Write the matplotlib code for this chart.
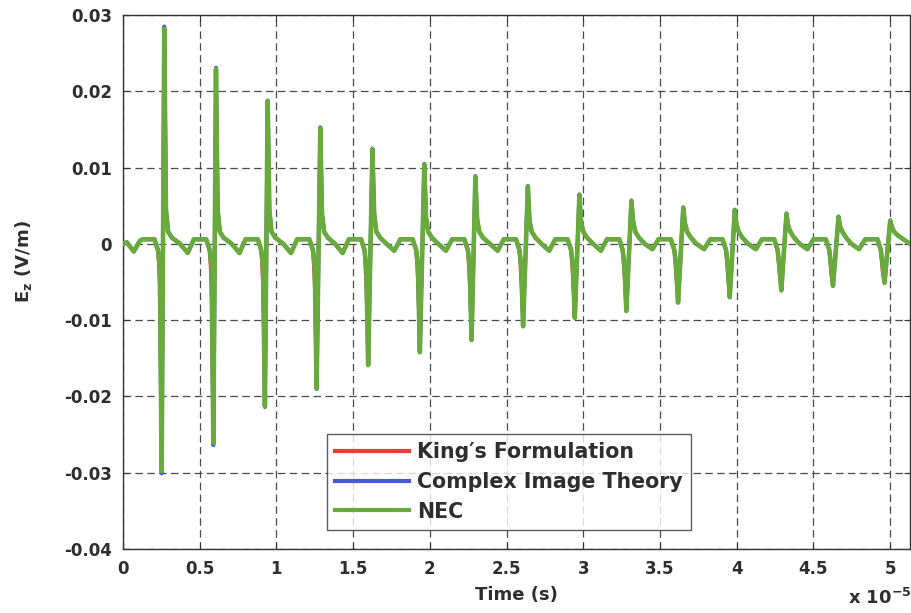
import matplotlib
matplotlib.use("Agg")
import matplotlib.pyplot as plt
from matplotlib.ticker import FixedLocator, FixedFormatter

# ---------------- data (time in units of 1e-5 s, Ez in V/m) ----------------
time_1e5 = [
    0.000, 0.025, 0.070, 0.110, 0.130, 0.205,
    0.228, 0.240, 0.252, 0.269, 0.280, 0.294, 0.319, 0.372, 0.422, 0.462, 0.542,
    0.565, 0.577, 0.589, 0.606, 0.617, 0.631, 0.656, 0.709, 0.759, 0.799, 0.879,
    0.901, 0.913, 0.925, 0.943, 0.954, 0.968, 0.993, 1.045, 1.095, 1.135, 1.215,
    1.238, 1.250, 1.262, 1.286, 1.297, 1.311, 1.336, 1.382, 1.432, 1.472, 1.552,
    1.574, 1.586, 1.598, 1.626, 1.637, 1.651, 1.676, 1.718, 1.768, 1.808, 1.888,
    1.911, 1.923, 1.935, 1.964, 1.975, 1.989, 2.014, 2.055, 2.105, 2.145, 2.225,
    2.248, 2.260, 2.272, 2.297, 2.308, 2.322, 2.347, 2.392, 2.442, 2.482, 2.562,
    2.584, 2.596, 2.608, 2.639, 2.650, 2.664, 2.689, 2.728, 2.778, 2.818, 2.898,
    2.921, 2.933, 2.945, 2.975, 2.986, 3.000, 3.025, 3.065, 3.115, 3.155, 3.235,
    3.257, 3.269, 3.281, 3.314, 3.325, 3.339, 3.364, 3.401, 3.451, 3.491, 3.571,
    3.594, 3.606, 3.618, 3.652, 3.663, 3.677, 3.702, 3.738, 3.788, 3.828, 3.908,
    3.931, 3.943, 3.955, 3.988, 3.999, 4.013, 4.038, 4.075, 4.125, 4.165, 4.245,
    4.267, 4.279, 4.291, 4.325, 4.336, 4.350, 4.375, 4.411, 4.461, 4.501, 4.581,
    4.604, 4.616, 4.628, 4.664, 4.675, 4.689, 4.714, 4.748, 4.798, 4.838, 4.918,
    4.940, 4.952, 4.964, 5.001, 5.012, 5.026, 5.051, 5.130,
]

ez_nec = [
    0.0000, 0.0002, -0.0010, 0.0004, 0.0006, 0.0006,
    -0.0008, -0.0030, -0.0298, 0.0282, 0.0045, 0.0016, 0.0008, 0.0000, -0.0012, 0.0006, 0.0006,
    -0.0008, -0.0030, -0.0261, 0.0229, 0.0045, 0.0016, 0.0008, 0.0000, -0.0012, 0.0006, 0.0006,
    -0.0008, -0.0030, -0.0213, 0.0187, 0.0045, 0.0016, 0.0008, 0.0000, -0.0012, 0.0006, 0.0006,
    -0.0008, -0.0030, -0.0190, 0.0152, 0.0040, 0.0016, 0.0008, 0.0000, -0.0012, 0.0006, 0.0006,
    -0.0008, -0.0030, -0.0159, 0.0124, 0.0040, 0.0016, 0.0008, 0.0000, -0.0009, 0.0006, 0.0006,
    -0.0008, -0.0030, -0.0142, 0.0104, 0.0035, 0.0016, 0.0008, 0.0000, -0.0009, 0.0006, 0.0006,
    -0.0008, -0.0030, -0.0126, 0.0088, 0.0033, 0.0016, 0.0008, 0.0000, -0.0009, 0.0006, 0.0006,
    -0.0008, -0.0030, -0.0108, 0.0075, 0.0030, 0.0016, 0.0008, 0.0000, -0.0009, 0.0006, 0.0006,
    -0.0008, -0.0030, -0.0097, 0.0064, 0.0028, 0.0016, 0.0008, 0.0000, -0.0009, 0.0006, 0.0006,
    -0.0008, -0.0030, -0.0088, 0.0056, 0.0030, 0.0016, 0.0008, 0.0000, -0.0007, 0.0006, 0.0006,
    -0.0008, -0.0030, -0.0077, 0.0047, 0.0027, 0.0016, 0.0008, 0.0000, -0.0007, 0.0006, 0.0006,
    -0.0008, -0.0030, -0.0070, 0.0044, 0.0025, 0.0016, 0.0008, 0.0000, -0.0007, 0.0006, 0.0006,
    -0.0008, -0.0030, -0.0061, 0.0039, 0.0023, 0.0016, 0.0008, 0.0000, -0.0007, 0.0006, 0.0006,
    -0.0008, -0.0030, -0.0055, 0.0035, 0.0022, 0.0016, 0.0008, 0.0000, -0.0007, 0.0006, 0.0006,
    -0.0008, -0.0030, -0.0051, 0.0030, 0.0022, 0.0016, 0.0011, 0.0000,
]

ez_cit = [
    0.0000, 0.0002, -0.0010, 0.0004, 0.0006, 0.0006,
    -0.0008, -0.0030, -0.0301, 0.0285, 0.0045, 0.0016, 0.0008, 0.0000, -0.0012, 0.0006, 0.0006,
    -0.0008, -0.0030, -0.0264, 0.0231, 0.0045, 0.0016, 0.0008, 0.0000, -0.0012, 0.0006, 0.0006,
    -0.0008, -0.0030, -0.0214, 0.0188, 0.0045, 0.0016, 0.0008, 0.0000, -0.0012, 0.0006, 0.0006,
    -0.0008, -0.0030, -0.0190, 0.0153, 0.0040, 0.0016, 0.0008, 0.0000, -0.0012, 0.0006, 0.0006,
    -0.0008, -0.0030, -0.0159, 0.0125, 0.0040, 0.0016, 0.0008, 0.0000, -0.0009, 0.0006, 0.0006,
    -0.0008, -0.0030, -0.0142, 0.0105, 0.0035, 0.0016, 0.0008, 0.0000, -0.0009, 0.0006, 0.0006,
    -0.0008, -0.0030, -0.0126, 0.0089, 0.0033, 0.0016, 0.0008, 0.0000, -0.0009, 0.0006, 0.0006,
    -0.0008, -0.0030, -0.0108, 0.0076, 0.0030, 0.0016, 0.0008, 0.0000, -0.0009, 0.0006, 0.0006,
    -0.0008, -0.0030, -0.0097, 0.0065, 0.0028, 0.0016, 0.0008, 0.0000, -0.0009, 0.0006, 0.0006,
    -0.0008, -0.0030, -0.0088, 0.0057, 0.0030, 0.0016, 0.0008, 0.0000, -0.0007, 0.0006, 0.0006,
    -0.0008, -0.0030, -0.0077, 0.0048, 0.0027, 0.0016, 0.0008, 0.0000, -0.0007, 0.0006, 0.0006,
    -0.0008, -0.0030, -0.0070, 0.0045, 0.0025, 0.0016, 0.0008, 0.0000, -0.0007, 0.0006, 0.0006,
    -0.0008, -0.0030, -0.0061, 0.0040, 0.0023, 0.0016, 0.0008, 0.0000, -0.0007, 0.0006, 0.0006,
    -0.0008, -0.0030, -0.0055, 0.0036, 0.0022, 0.0016, 0.0008, 0.0000, -0.0007, 0.0006, 0.0006,
    -0.0008, -0.0030, -0.0051, 0.0031, 0.0022, 0.0016, 0.0011, 0.0000,
]

ez_king = [
    0.0000, 0.0002, -0.0010, 0.0004, 0.0006, 0.0006,
    -0.0010, -0.0060, -0.0295, 0.0280, 0.0045, 0.0016, 0.0008, 0.0000, -0.0012, 0.0006, 0.0006,
    -0.0010, -0.0060, -0.0258, 0.0227, 0.0045, 0.0016, 0.0008, 0.0000, -0.0012, 0.0006, 0.0006,
    -0.0010, -0.0060, -0.0211, 0.0185, 0.0045, 0.0016, 0.0008, 0.0000, -0.0012, 0.0006, 0.0006,
    -0.0010, -0.0060, -0.0188, 0.0150, 0.0040, 0.0016, 0.0008, 0.0000, -0.0012, 0.0006, 0.0006,
    -0.0010, -0.0060, -0.0157, 0.0122, 0.0040, 0.0016, 0.0008, 0.0000, -0.0009, 0.0006, 0.0006,
    -0.0010, -0.0055, -0.0140, 0.0102, 0.0035, 0.0016, 0.0008, 0.0000, -0.0009, 0.0006, 0.0006,
    -0.0010, -0.0055, -0.0124, 0.0086, 0.0033, 0.0016, 0.0008, 0.0000, -0.0009, 0.0006, 0.0006,
    -0.0010, -0.0050, -0.0106, 0.0074, 0.0030, 0.0016, 0.0008, 0.0000, -0.0009, 0.0006, 0.0006,
    -0.0010, -0.0050, -0.0095, 0.0063, 0.0028, 0.0016, 0.0008, 0.0000, -0.0009, 0.0006, 0.0006,
    -0.0010, -0.0045, -0.0086, 0.0055, 0.0030, 0.0016, 0.0008, 0.0000, -0.0007, 0.0006, 0.0006,
    -0.0010, -0.0045, -0.0075, 0.0046, 0.0027, 0.0016, 0.0008, 0.0000, -0.0007, 0.0006, 0.0006,
    -0.0010, -0.0045, -0.0068, 0.0043, 0.0025, 0.0016, 0.0008, 0.0000, -0.0007, 0.0006, 0.0006,
    -0.0010, -0.0040, -0.0059, 0.0038, 0.0023, 0.0016, 0.0008, 0.0000, -0.0007, 0.0006, 0.0006,
    -0.0010, -0.0040, -0.0053, 0.0034, 0.0022, 0.0016, 0.0008, 0.0000, -0.0007, 0.0006, 0.0006,
    -0.0010, -0.0040, -0.0049, 0.0029, 0.0022, 0.0016, 0.0011, 0.0000,
]

series_labels = ["King\u2032s Formulation", "Complex Image Theory", "NEC"]
x_ticks = [0, 0.5, 1, 1.5, 2, 2.5, 3, 3.5, 4, 4.5, 5]
x_tick_labels = ["0", "0.5", "1", "1.5", "2", "2.5", "3", "3.5", "4", "4.5", "5"]
y_ticks = [-0.04, -0.03, -0.02, -0.01, 0, 0.01, 0.02, 0.03]
y_tick_labels = ["-0.04", "-0.03", "-0.02", "-0.01", "0", "0.01", "0.02", "0.03"]

# ---------------- figure ----------------
TXT = "#2e2e2e"
plt.rcParams["font.family"] = ["DejaVu Sans"]
plt.rcParams["font.weight"] = "bold"
plt.rcParams["mathtext.default"] = "bf"

fig = plt.figure(figsize=(9.11, 6.13), dpi=100)
ax = fig.add_axes([123 / 911, 1 - 549 / 613, (910 - 123) / 911, (549 - 15) / 613])

ax.plot(time_1e5, ez_king, color="#f03a3a", lw=2.4, label=series_labels[0], zorder=3)
ax.plot(time_1e5, ez_cit, color="#4a5ad0", lw=2.8, label=series_labels[1], zorder=4)
ax.plot(time_1e5, ez_nec, color="#68aa3c", lw=3.3, label=series_labels[2], zorder=5)

ax.set_xlim(0, 5.13)
ax.set_ylim(-0.04, 0.03)
ax.xaxis.set_major_locator(FixedLocator(x_ticks))
ax.xaxis.set_major_formatter(FixedFormatter(x_tick_labels))
ax.yaxis.set_major_locator(FixedLocator(y_ticks))
ax.yaxis.set_major_formatter(FixedFormatter(y_tick_labels))

ax.grid(True, color="#4a4a4a", lw=0.9, linestyle=(0, (6, 3.5)))
ax.set_axisbelow(True)
ax.tick_params(direction="in", length=4, width=0.8, top=True, right=True,
               labelsize=12, labelcolor=TXT, color="#333333", pad=8)
for lab in ax.get_xticklabels() + ax.get_yticklabels():
    lab.set_fontweight("bold")
for sp in ax.spines.values():
    sp.set_color("#333333")
    sp.set_linewidth(1.0)

ax.set_xlabel("Time (s)", fontsize=13, fontweight="bold", color=TXT, labelpad=6)
fig.text(24 / 911, 1 - 262 / 613, r"E$_\mathbf{z}$ (V/m)", fontsize=13, fontweight="bold",
         color=TXT, rotation=90, ha="center", va="center")
fig.text(848 / 911, 1 - 604 / 613, r"x 10$^{\mathbf{-5}}$", fontsize=13, fontweight="bold",
         color=TXT, ha="left", va="baseline")

leg = ax.legend(loc="upper left", bbox_to_anchor=(327 / 911, 1 - 434 / 613),
                bbox_transform=fig.transFigure, borderaxespad=0, frameon=True,
                fancybox=False, shadow=False, handlelength=3.6, handletextpad=0.4,
                labelspacing=0.47, borderpad=0.4, prop={"size": 14.8, "weight": "bold"})
leg.get_frame().set_edgecolor("#333333")
leg.get_frame().set_linewidth(1.0)
for t in leg.get_texts():
    t.set_color(TXT)
for h in leg.get_lines():
    h.set_linewidth(3.0)

fig.savefig("out.png", dpi=100, facecolor="white")
